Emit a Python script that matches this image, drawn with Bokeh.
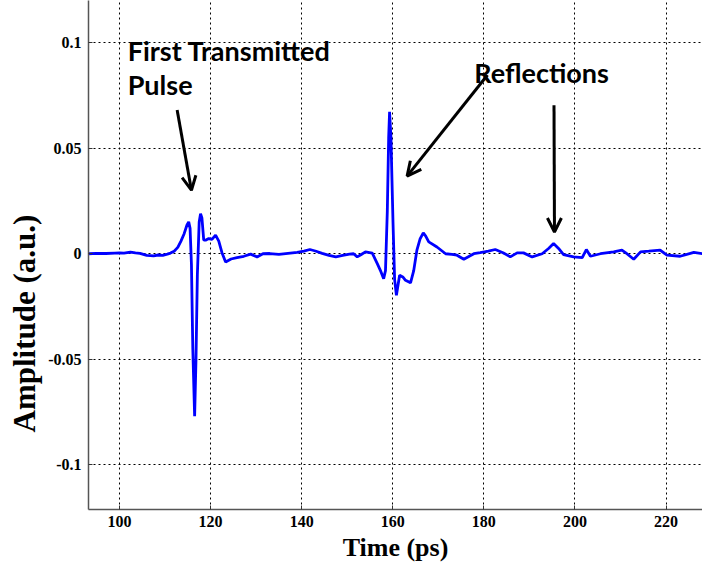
from bokeh.plotting import figure
from bokeh.models import Range1d, FixedTicker, Label, Arrow, OpenHead, ColumnDataSource, Title
from bokeh.embed import file_html
from bokeh.resources import INLINE

# ---- data ----
time_ps = [93.2, 95, 97, 99, 100, 101, 102.4, 103.5, 104.5, 106, 107.5, 108.5, 109.5, 110.5,
           111.2, 112, 112.8, 113.5, 114.2, 114.8, 115.2, 115.5, 115.8, 116.1, 116.5, 116.8,
           117.1, 117.5, 117.8, 118.1, 118.5, 119.0, 119.6, 120.3, 121.1, 121.8, 122.5, 123.3,
           124.5, 125.8, 127.3, 128.8, 130.2, 131.5, 133, 135, 137, 139, 140.5, 141.8, 143,
           144.5, 146, 147.5, 149, 150.5, 151.4, 152.2, 153, 154.0, 155.5, 156.6, 157.4, 158.0,
           158.4, 158.8, 159.1, 159.3, 159.6, 160.05, 160.4, 160.8, 161.5, 162.2, 162.8, 163.9,
           164.6, 165.3, 166.0, 166.7, 167.2, 167.9, 169.7, 171.6, 173, 174.1, 175.6, 177.8,
           179.2, 181, 182.5, 184.2, 185.8, 187.3, 188.7, 190.6, 192.8, 194.2, 195.3, 196.4,
           197.5, 199.7, 201.6, 202.5, 203.4, 205.6, 208.5, 210.3, 211.4, 212.9, 214.4, 216.2,
           218.7, 220.2, 223.1, 226.1, 228]
amplitude = [0, 0.0002, 0.0001, 0.0003, 0.0004, 0.0003, 0.0008, 0.0004, 0.0002, -0.0008, -0.001, -0.0006, -0.0008, -0.0002,
             0.0003, 0.0012, 0.003, 0.006, 0.0095, 0.0135, 0.0151, 0.012, -0.005, -0.045, -0.077, -0.05,
             -0.01, 0.015, 0.019, 0.017, 0.0064, 0.0065, 0.0072, 0.0068, 0.0088, 0.006, 0.0005, -0.0039,
             -0.0025, -0.0018, -0.0012, -0.0002, -0.0015, 0, 0.0001, -0.0003, 0.0002, 0.0006, 0.0012, 0.002, 0.0013,
             0.0002, -0.0008, -0.0015, -0.0008, -0.0002, 0, -0.0015, -0.0005, 0.0009, 0.0003, -0.0047, -0.0085, -0.0118,
             -0.008, 0.02, 0.055, 0.0673, 0.055, 0.015, -0.012, -0.0197, -0.0102, -0.011, -0.0126, -0.0138,
             -0.008, 0.0017, 0.007, 0.0099, 0.0085, 0.0056, 0.0032, 0, -0.0003, -0.0007, -0.0026, 0,
             0.0005, 0.0012, 0.002, 0.0005, -0.0015, 0.0004, 0.0004, -0.0015, 0, 0.0025, 0.0048, 0.0025,
             -0.0004, -0.0015, -0.0018, 0.002, -0.0012, 0, 0.0009, 0.0017, 0, -0.0026, 0.0009, 0.0012,
             0.0017, -0.0007, -0.0012, 0.0006, 0]

x_ticks = [100, 120, 140, 160, 180, 200, 220]
y_ticks = [-0.1, -0.05, 0, 0.05, 0.1]
y_tick_labels = ["-0.1", "-0.05", "0", "0.05", "0.1"]

assert len(time_ps) == len(amplitude), (len(time_ps), len(amplitude))

p = figure(width=702, height=569, output_backend="svg", toolbar_location=None,
           x_range=Range1d(93.2, 228), y_range=Range1d(-0.1212, 0.12),
           min_border_left=88, min_border_right=0, min_border_top=0, min_border_bottom=60)
p.outline_line_color = None
p.background_fill_color = "white"

src = ColumnDataSource(dict(t=time_ps, a=amplitude))
p.line("t", "a", source=src, line_color="#0000FF", line_width=2.8)

# axes
p.xaxis.ticker = FixedTicker(ticks=x_ticks)
p.yaxis.ticker = FixedTicker(ticks=y_ticks)
p.yaxis.major_label_overrides = {t: l for t, l in zip(y_ticks, y_tick_labels)}
p.xaxis.major_label_overrides = {t: str(t) for t in x_ticks}
for ax in (p.xaxis[0], p.yaxis[0]):
    ax.axis_line_color = "#555555"
    ax.axis_line_width = 1.5
    ax.major_tick_in = 4
    ax.major_tick_out = 0
    ax.major_tick_line_color = "#333333"
    ax.minor_tick_line_color = None
    ax.major_label_text_font = "Liberation Serif"
    ax.major_label_text_font_style = "bold"
    ax.major_label_text_font_size = "16px"
    ax.major_label_text_color = "black"
    ax.axis_label_text_font = "Liberation Serif"
    ax.axis_label_text_font_style = "bold"
    ax.axis_label_text_font_size = "26px"
    ax.axis_label_text_color = "black"
p.xaxis.axis_label = "Time (ps)"
p.xaxis.major_label_standoff = 6
p.xaxis.axis_label_standoff = 3
p.yaxis.major_label_standoff = 7

# y-axis title placed like the reference (off-centre, long)
p.add_layout(Title(text="Amplitude (a.u.)", align="left", offset=77, standoff=8,
                   text_font="Liberation Serif", text_font_style="bold",
                   text_font_size="31px", text_color="black"), "left")

# grid
p.xgrid.ticker = FixedTicker(ticks=x_ticks)
p.ygrid.ticker = FixedTicker(ticks=y_ticks)
for g in (p.xgrid[0], p.ygrid[0]):
    g.grid_line_color = "black"
    g.grid_line_dash = "2 3"
    g.grid_line_width = 1
    g.grid_line_alpha = 1

# annotations
font = "Lato"
for txt, x, y in [("First Transmitted", 101.8, 0.0961), ("Pulse", 101.8, 0.080),
                  ("Reflections", 177.9, 0.0857)]:
    p.add_layout(Label(x=x, y=y, text=txt, text_font=font, text_font_style="bold",
                       text_font_size="27px", text_color="black", text_baseline="alphabetic"))

for (x0, y0, x1, y1) in [(112.66, 0.0681, 115.8, 0.0301),
                         (180.8, 0.0847, 163.15, 0.0368),
                         (195.4, 0.0704, 195.5, 0.0103)]:
    p.add_layout(Arrow(end=OpenHead(size=14, line_width=3, line_color="black"),
                       x_start=x0, y_start=y0, x_end=x1, y_end=y1,
                       line_width=3, line_color="black"))

open("out.html", "w").write(file_html(p, INLINE))
